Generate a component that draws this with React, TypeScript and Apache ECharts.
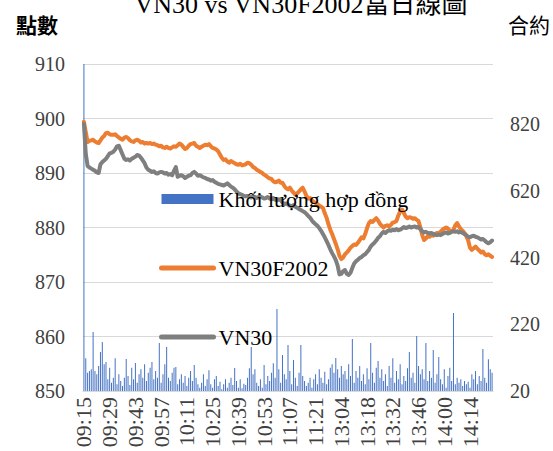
import React, { useEffect, useRef } from "react";
import * as echarts from "echarts";

const TITLE = "VN30 vs VN30F2002當日線圖";
const LEFT_UNIT = "點數";
const RIGHT_UNIT = "合約";
const SERIES_NAMES = ["Khối lượng hợp đồng", "VN30F2002", "VN30"];

// Trading sessions (minute categories)
const SESSIONS: [string, string][] = [
  ["09:15", "11:30"],
  ["13:00", "14:26"],
];

function buildTimes(): string[] {
  const out: string[] = [];
  const pad = (n: number) => (n < 10 ? "0" + n : "" + n);
  for (const [a, b] of SESSIONS) {
    const [ah, am] = a.split(":").map(Number);
    const [bh, bm] = b.split(":").map(Number);
    for (let t = ah * 60 + am; t <= bh * 60 + bm; t++) {
      out.push(pad(Math.floor(t / 60)) + ":" + pad(t % 60));
    }
  }
  return out;
}
const times = buildTimes();

// Contract volume (right axis)
const volume = [
  1500, 118, 75, 80, 85, 197, 80, 70, 95, 137, 167, 100, 107, 55, 90, 45, 60, 118, 40, 70,
  50, 35, 60, 116, 65, 38, 90, 55, 104, 45, 70, 85, 60, 100, 50, 75, 90, 107, 55, 80,
  60, 164, 45, 70, 100, 152, 60, 50, 75, 90, 92, 40, 55, 70, 45, 65, 35, 60, 80, 50,
  98, 60, 40, 30, 45, 70, 35, 55, 82, 40, 30, 55, 65, 35, 48, 25, 40, 55, 30, 45,
  60, 38, 89, 50, 30, 55, 28, 42, 38, 60, 88, 152, 70, 85, 45, 35, 55, 30, 98, 40,
  65, 50, 75, 103, 60, 266, 85, 45, 128, 70, 55, 158, 80, 40, 113, 60, 35, 75, 158, 65,
  50, 35, 45, 60, 30, 55, 70, 40, 85, 60, 45, 78, 40, 55, 90, 100, 75, 119, 85, 60,
  95, 70, 80, 55, 100, 65, 176, 45, 80, 60, 95, 50, 70, 40, 88, 55, 164, 75, 45, 90,
  110, 60, 85, 50, 70, 35, 95, 60, 118, 45, 80, 55, 100, 40, 65, 50, 88, 137, 60, 75,
  45, 185, 95, 70, 85, 55, 164, 50, 80, 60, 143, 45, 70, 122, 55, 40, 85, 30, 65, 90,
  50, 254, 40, 60, 45, 55, 35, 50, 40, 48, 30, 70, 55, 80, 40, 65, 50, 146, 60, 45,
  115, 85, 75,
];

// VN30F2002 futures price (left axis)
const vn30f = [
  899.4, 897.5, 895.7, 895.9, 896.0, 896.1, 895.8, 895.6, 895.5, 896.0,
  896.5, 896.8, 897.3, 897.4, 897.1, 897.0, 897.0, 897.1, 896.8, 896.5,
  896.3, 896.1, 896.5, 896.6, 896.4, 896.0, 895.8, 895.7, 896.0, 896.1,
  895.9, 895.6, 895.7, 895.4, 895.5, 895.4, 895.5, 895.3, 895.4, 895.2,
  895.1, 894.9, 895.0, 894.7, 894.6, 894.8, 894.6, 894.5, 894.7, 894.9,
  894.8, 895.1, 895.4, 895.2, 894.8, 894.4, 894.6, 895.0, 895.3, 895.4,
  895.5, 895.0, 894.8, 894.6, 894.8, 895.0, 895.2, 895.1, 895.3, 894.9,
  894.6, 894.5, 894.3, 894.0, 893.4, 892.8, 892.4, 892.5, 892.1, 891.9,
  892.2, 892.0, 891.8, 891.6, 891.5, 891.7, 891.4, 891.5, 891.6, 891.9,
  891.8, 891.5, 891.1, 890.9, 890.6, 890.4, 890.2, 890.0, 889.7, 889.5,
  889.2, 889.0, 888.9, 888.5, 888.3, 888.4, 888.6, 888.2, 888.2, 887.6,
  887.2, 887.0, 887.3, 886.8, 886.4, 886.0, 886.3, 886.6, 887.0, 887.3,
  886.6, 885.8, 885.3, 885.4, 885.0, 884.7, 884.5, 884.3, 884.0, 883.8,
  883.6, 882.6, 881.8, 880.6, 879.6, 878.8, 877.9, 877.0, 876.0, 874.8,
  874.2, 874.5, 875.1, 875.4, 875.8, 876.3, 876.6, 876.9, 876.8, 877.2,
  877.7, 878.2, 878.0, 878.8, 879.9, 880.8, 881.2, 881.0, 881.4, 881.7,
  881.3, 880.7, 880.3, 880.0, 880.3, 880.4, 880.2, 880.5, 880.9, 881.0,
  881.2, 882.2, 882.9, 883.3, 882.7, 882.0, 881.7, 881.9, 881.8, 881.6,
  881.7, 881.4, 881.2, 880.0, 878.6, 877.7, 878.0, 878.4, 878.3, 878.6,
  878.5, 878.8, 879.0, 878.9, 879.2, 879.6, 879.8, 880.0, 879.8, 879.4,
  879.3, 879.6, 880.4, 880.8, 880.2, 879.7, 879.4, 879.0, 878.4, 877.6,
  876.3, 875.9, 876.2, 876.5, 876.1, 875.8, 875.4, 875.6, 875.1, 874.9,
  875.1, 874.8, 874.6,
];

// VN30 index (left axis)
const vn30 = [
  899.0, 893.5, 891.3, 891.0, 890.8, 890.6, 890.4, 890.1, 890.0, 891.6,
  892.0, 892.3, 892.6, 893.1, 893.6, 893.7, 893.9, 894.3, 894.9, 895.0,
  894.2, 893.4, 892.6, 892.4, 892.5, 892.3, 892.6, 892.8, 893.0, 893.3,
  893.2, 892.8, 892.3, 891.8, 891.0, 890.6, 890.4, 890.2, 890.3, 890.0,
  889.9, 890.1, 890.2, 890.1, 889.9, 890.0, 889.7, 889.8, 889.6, 890.4,
  891.1, 889.3, 889.5, 889.6, 889.4, 889.1, 889.3, 889.5, 889.6, 890.0,
  890.2, 889.9, 889.5, 889.6, 889.4, 889.2, 889.1, 888.9, 888.8, 888.6,
  888.7, 888.4, 888.2, 888.0, 887.9, 887.8, 887.7, 887.9, 888.1, 887.8,
  887.5, 887.3, 887.0, 886.6, 886.3, 886.1, 886.0, 885.8, 885.7, 885.8,
  885.6, 885.5, 885.7, 885.6, 885.4, 885.6, 885.7, 885.5, 885.3, 885.4,
  885.6, 885.3, 885.2, 885.4, 885.1, 885.0, 885.2, 885.0, 884.6, 884.3,
  884.4, 884.2, 884.0, 883.9, 884.1, 883.8, 883.6, 883.4, 883.2, 883.0,
  882.8, 882.5, 882.1, 881.8, 881.3, 880.9, 880.6, 880.3, 879.9, 879.4,
  878.8, 878.2, 877.5, 876.8, 876.0, 875.3, 874.7, 874.0, 873.0, 871.4,
  871.5, 872.0, 872.2, 871.5, 871.3, 871.7, 872.6, 873.4, 873.8, 874.1,
  874.4, 874.6, 874.9, 875.1, 875.5, 875.9, 876.5, 876.9, 877.2, 877.6,
  878.1, 878.4, 878.9, 879.2, 879.0, 879.3, 879.5, 879.4, 879.6, 879.5,
  879.7, 879.5, 879.6, 879.8, 880.1, 879.9, 880.0, 880.2, 880.0, 880.1,
  880.2, 880.0, 880.1, 879.7, 879.3, 879.1, 879.2, 879.0, 878.9, 879.0,
  878.8, 878.7, 878.6, 878.7, 878.6, 878.8, 879.0, 879.1, 878.9, 879.0,
  879.2, 879.3, 879.2, 879.3, 879.1, 879.2, 879.0, 878.8, 878.6, 878.3,
  878.2, 878.4, 878.5, 878.3, 878.2, 878.0, 877.8, 877.9, 877.6, 877.3,
  877.1, 877.3, 877.6,
];

const SERIF = "Liberation Serif";
const MIXED = "Liberation Serif, Noto Sans CJK TC";
const CJK = "Noto Sans CJK TC";
const LABEL_COLOR = "#404040";

export default function App() {
  const ref = useRef<HTMLDivElement>(null);

  useEffect(() => {
    if (!ref.current) return;
    const chart = echarts.init(ref.current, undefined, { renderer: "svg" });
    const option: any = {
      animation: false,
      backgroundColor: "#ffffff",
      textStyle: { fontFamily: SERIF },
      grid: { left: 83, right: 60, top: 64, bottom: 60, containLabel: false },
      graphic: [
        {
          type: "text",
          x: 301,
          y: 4,
          style: {
            text: TITLE,
            fontSize: 26,
            fontFamily: MIXED,
            fill: "#000",
            align: "center",
            verticalAlign: "middle",
          },
        },
        {
          type: "text",
          x: 37,
          y: 24,
          style: {
            text: LEFT_UNIT,
            fontSize: 21,
            fontWeight: "bold",
            fontFamily: CJK,
            fill: "#000",
            align: "center",
            verticalAlign: "middle",
          },
        },
        {
          type: "text",
          x: 529,
          y: 24,
          style: {
            text: RIGHT_UNIT,
            fontSize: 21,
            fontFamily: CJK,
            fill: "#000",
            align: "center",
            verticalAlign: "middle",
          },
        },
      ],
      legend: {
        orient: "vertical",
        left: 154,
        top: 183,
        itemWidth: 52,
        itemHeight: 10,
        itemGap: 47,
        lineStyle: { width: 5, cap: "round" },
        textStyle: { fontSize: 22, fontFamily: SERIF, color: "#000" },
        data: [
          { name: SERIES_NAMES[0], icon: "rect" },
          { name: SERIES_NAMES[1], itemStyle: { opacity: 0 } },
          { name: SERIES_NAMES[2], itemStyle: { opacity: 0 } },
        ],
      },
      xAxis: {
        type: "category",
        data: times,
        boundaryGap: true,
        axisLine: { lineStyle: { color: "#d9d9d9", width: 1 } },
        axisTick: { show: false },
        axisLabel: {
          interval: 13,
          rotate: 90,
          fontSize: 22,
          fontFamily: SERIF,
          color: LABEL_COLOR,
          margin: 6,
        },
      },
      yAxis: [
        {
          type: "value",
          position: "left",
          min: 850,
          max: 910,
          interval: 10,
          axisLine: { show: false },
          axisTick: { show: false },
          splitLine: { lineStyle: { color: "#d9d9d9", width: 1 } },
          axisLabel: { fontSize: 20, fontFamily: SERIF, color: LABEL_COLOR, margin: 18 },
        },
        {
          type: "value",
          position: "right",
          min: 20,
          max: 1000,
          interval: 200,
          axisLine: { show: false },
          axisTick: { show: false },
          splitLine: { show: false },
          axisLabel: {
            fontSize: 20,
            fontFamily: SERIF,
            color: LABEL_COLOR,
            margin: 17,
            showMaxLabel: false,
          },
        },
      ],
      series: [
        {
          name: SERIES_NAMES[0],
          type: "bar",
          yAxisIndex: 1,
          data: volume,
          barWidth: 1,
          clip: true,
          itemStyle: { color: "#4472C4" },
        },
        {
          name: SERIES_NAMES[1],
          type: "line",
          yAxisIndex: 0,
          data: vn30f,
          symbol: "none",
          lineStyle: { width: 4, color: "#ED7D31", join: "round", cap: "round" },
          itemStyle: { color: "#ED7D31" },
        },
        {
          name: SERIES_NAMES[2],
          type: "line",
          yAxisIndex: 0,
          data: vn30,
          symbol: "none",
          lineStyle: { width: 4, color: "#7F7F7F", join: "round", cap: "round" },
          itemStyle: { color: "#7F7F7F" },
        },
      ],
    };
    chart.setOption(option);
    return () => chart.dispose();
  }, []);

  return (
    <div
      ref={ref}
      style={{ position: "fixed", left: 0, top: 0, width: 553, height: 451, background: "#fff" }}
    />
  );
}
